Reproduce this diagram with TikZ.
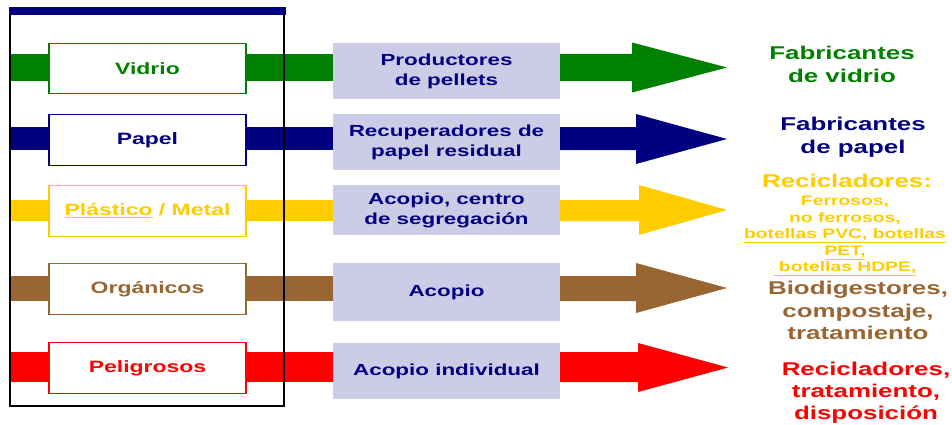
\documentclass[tikz,border=0pt]{standalone}
\usepackage{fontspec}
\setmainfont{Liberation Sans}[FakeStretch=1.4]
\usetikzlibrary{backgrounds,calc}
\definecolor{cG}{RGB}{0,128,0}
\definecolor{cN}{RGB}{0,0,128}
\definecolor{cY}{RGB}{255,204,0}
\definecolor{cB}{RGB}{153,102,51}
\definecolor{cR}{RGB}{255,0,0}
\definecolor{lav}{RGB}{204,204,230}
\begin{document}
\begin{tikzpicture}[x=1pt,y=-1pt,
  leftbox/.style={draw=#1, line width=1.1pt, fill=white, minimum width=197pt,
    minimum height=50pt, inner sep=0pt, text=#1,
    font=\fontsize{16.4}{19}\selectfont\bfseries},
  midbox/.style={fill=lav, minimum width=227pt, inner sep=0pt, anchor=north,
    text=cN, align=center, font=\fontsize{16}{20}\selectfont\bfseries},
  rtext/.style={anchor=north, inner sep=0pt, align=center, text=#1,
    font=\fontsize{18.5}{23}\selectfont\bfseries},
  smalltext/.style={anchor=north, inner sep=0pt, align=center, text=#1,
    font=\fontsize{13.8}{16.5}\selectfont\bfseries},
  frameline/.style={draw=black, line width=2pt}]
\useasboundingbox (0,0) rectangle (952,425);

% frame
\coordinate (ftl) at (10,15);
\coordinate (fbl) at (10,406);
\coordinate (fbr) at (284,406);
\coordinate (ftr) at (284,15);
\draw[frameline] (ftl) -- (fbl) -- (fbr) -- (ftr);
\fill[cN] (9,7) rectangle (286,15);

% start points of bands and arrow tips
\coordinate (s1) at (10,67.5);
\coordinate (s2) at (10,138.5);
\coordinate (s3) at (10,210.5);
\coordinate (s4) at (10,288.5);
\coordinate (s5) at (10,367);
\coordinate (t1) at (727,67.5);
\coordinate (t2) at (727,139);
\coordinate (t3) at (727,210);
\coordinate (t4) at (727,288);
\coordinate (t5) at (728,367.5);

% left boxes
\node[leftbox=cG, minimum height=50pt] (v1) at (147.5,68.5) {Vidrio};
\node[leftbox=cN, minimum height=51pt] (v2) at (147.5,140) {Papel};
\node[leftbox=cY, minimum height=51pt] (v3) at (147.5,211) {\underline{Plástico} / Metal};
\node[leftbox=cB, minimum height=51pt] (v4) at (147.5,289) {Orgánicos};
\node[leftbox=cR, minimum height=51pt] (v5) at (147.5,368) {Peligrosos};

% middle boxes
\node[midbox, minimum height=56pt] (m1) at (446.5,43) {Productores\\de pellets};
\node[midbox, minimum height=56pt] (m2) at (446.5,114) {Recuperadores de\\papel residual};
\node[midbox, minimum height=50pt] (m3) at (446.5,185) {Acopio, centro\\de segregación};
\node[midbox, minimum height=58pt] (m4) at (446.5,263) {Acopio};
\node[midbox, minimum height=56pt] (m5) at (446.5,343) {Acopio individual};

% right texts
\node[rtext=cG] (r1) at (842,46) {Fabricantes\\de vidrio};
\node[rtext=cN] (r2) at (853,117) {Fabricantes\\de papel};
\node[rtext=cY] (r3) at (847,174) {Recicladores:};
\node[smalltext=cY] (r3b) at (845,196) {Ferrosos,\\no ferrosos,\\\underline{botellas PVC, botellas}\\\underline{PET,}\\\underline{\ botellas HDPE,}};
\node[rtext=cB, font=\fontsize{18.5}{22.5}\selectfont\bfseries] (r4) at (858,281) {Biodigestores,\\compostaje,\\tratamiento};
\node[rtext=cR, font=\fontsize{18.5}{22}\selectfont\bfseries] (r5) at (866,362) {Recicladores,\\tratamiento,\\disposición};

% bands behind the boxes
\begin{pgfonlayer}{background}
\draw[cG, line width=27pt] (s1) -- (s1 -| m1.west);
\draw[cN, line width=23pt] (s2) -- (s2 -| m2.west);
\draw[cY, line width=21pt] (s3) -- (s3 -| m3.west);
\draw[cB, line width=25pt] (s4) -- (s4 -| m4.west);
\draw[cR, line width=30pt] (s5) -- (s5 -| m5.west);
\end{pgfonlayer}

% arrows
\fill[cG] ($(s1 -| m1.east)+(0,-13.5)$) -- (632,54) -- (632,42.5) -- (t1)
  -- (632,92.5) -- (632,81) -- ($(s1 -| m1.east)+(0,13.5)$) -- cycle;
\fill[cN] ($(s2 -| m2.east)+(0,-11.5)$) -- (636,127) -- (636,114) -- (t2)
  -- (636,164) -- (636,150) -- ($(s2 -| m2.east)+(0,11.5)$) -- cycle;
\fill[cY] ($(s3 -| m3.east)+(0,-10.5)$) -- (639,200) -- (639,185) -- (t3)
  -- (639,235) -- (639,221) -- ($(s3 -| m3.east)+(0,10.5)$) -- cycle;
\fill[cB] ($(s4 -| m4.east)+(0,-12.5)$) -- (636,276) -- (636,263) -- (t4)
  -- (636,313) -- (636,301) -- ($(s4 -| m4.east)+(0,12.5)$) -- cycle;
\fill[cR] ($(s5 -| m5.east)+(0,-15)$) -- (638,352) -- (638,343) -- (t5)
  -- (638,392) -- (638,382) -- ($(s5 -| m5.east)+(0,15)$) -- cycle;
\end{tikzpicture}
\end{document}
